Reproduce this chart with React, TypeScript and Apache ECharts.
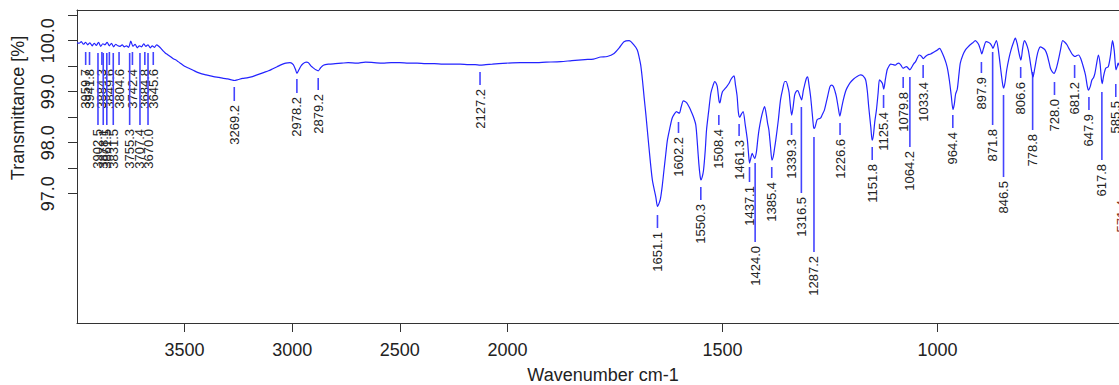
import React, { useEffect, useRef } from "react";
import * as echarts from "echarts";

// Spectrum samples: wavenumber (cm-1) and transmittance (%)
const wavenumber = [
  4000, 3990, 3980, 3970, 3960, 3950, 3940, 3930, 3920, 3910, 3900, 3890, 3880, 3870, 3860, 3850,
  3840, 3830, 3820, 3810, 3800, 3790, 3780, 3770, 3760, 3750, 3740, 3730, 3720, 3710, 3700, 3690,
  3680, 3670, 3660, 3650, 3640, 3630, 3620, 3610, 3600, 3590, 3580, 3570, 3560, 3550, 3540, 3530,
  3520, 3500, 3480, 3460, 3440, 3420, 3400, 3380, 3360, 3340, 3320, 3300, 3280, 3269, 3250, 3230,
  3210, 3190, 3170, 3150, 3130, 3110, 3090, 3070, 3050, 3030, 3010, 2995, 2985, 2978, 2970, 2960,
  2950, 2935, 2925, 2912, 2900, 2890, 2879, 2868, 2855, 2830, 2800, 2770, 2740, 2700, 2660, 2620,
  2580, 2540, 2500, 2460, 2420, 2380, 2340, 2300, 2260, 2220, 2180, 2150, 2127, 2100, 2070, 2040,
  2000, 1970, 1940, 1910, 1876, 1850, 1820, 1800, 1783, 1768, 1752, 1740, 1729, 1717, 1706, 1698,
  1694, 1690, 1686, 1682, 1678, 1671, 1663, 1655, 1651, 1647, 1644, 1640, 1636, 1632, 1628, 1622,
  1617, 1612, 1607, 1603, 1600, 1596, 1591, 1587, 1583, 1578, 1574, 1568, 1562, 1558, 1555, 1552,
  1550, 1547, 1544, 1540, 1537, 1532, 1527, 1522, 1518, 1515, 1512, 1508, 1506, 1503, 1500, 1495,
  1490, 1485, 1481, 1477, 1473, 1470, 1466, 1463, 1460, 1456, 1452, 1447, 1442, 1439, 1437, 1434,
  1431, 1428, 1425, 1421, 1418, 1415, 1410, 1406, 1402, 1398, 1395, 1392, 1388, 1385, 1382, 1379,
  1376, 1370, 1365, 1360, 1355, 1352, 1348, 1345, 1342, 1339, 1336, 1332, 1328, 1325, 1320, 1316,
  1312, 1309, 1305, 1302, 1299, 1295, 1291, 1288, 1286, 1283, 1280, 1276, 1272, 1268, 1263, 1257,
  1250, 1246, 1242, 1238, 1235, 1231, 1227, 1223, 1219, 1214, 1210, 1203, 1195, 1187, 1179, 1173,
  1167, 1163, 1160, 1155, 1152, 1149, 1146, 1142, 1138, 1135, 1131, 1128, 1125, 1121, 1117, 1113,
  1109, 1103, 1098, 1094, 1090, 1085, 1080, 1076, 1072, 1068, 1064, 1060, 1055, 1051, 1047, 1043,
  1038, 1033, 1028, 1023, 1016, 1010, 1004, 1000, 995, 990, 985, 980, 976, 972, 968, 964,
  961, 958, 954, 950, 947, 941, 935, 930, 924, 918, 912, 908, 904, 900, 897, 893,
  887, 882, 877, 874, 871, 867, 863, 859, 855, 851, 848, 846, 843, 839, 834, 829,
  824, 819, 815, 812, 809, 806, 802, 798, 794, 789, 785, 781, 778, 774, 769, 765,
  761, 756, 750, 745, 740, 737, 733, 729, 724, 719, 714, 709, 704, 699, 694, 688,
  684, 680, 676, 672, 667, 661, 656, 652, 649, 645, 641, 637, 634, 630, 626, 622,
  619, 617, 614, 609, 603, 598, 593, 589, 585, 582, 580, 575, 570, 565, 560, 555,
];

const transmittance = [
  99.96, 99.95, 99.98, 99.93, 99.97, 99.92, 99.96, 99.9, 99.95, 99.91, 99.97, 99.89, 99.94, 99.92, 99.97, 99.9,
  99.95, 99.88, 99.93, 99.9, 99.89, 99.92, 99.88, 99.9, 99.87, 99.99, 99.89, 99.93, 99.86, 99.9, 99.88, 99.94,
  99.89, 99.92, 99.86, 99.9, 99.87, 99.92, 99.89, 99.85, 99.8, 99.76, 99.73, 99.7, 99.67, 99.64, 99.62, 99.59,
  99.56, 99.5, 99.46, 99.42, 99.38, 99.35, 99.33, 99.31, 99.29, 99.28, 99.26, 99.25, 99.23, 99.22, 99.24, 99.26,
  99.27, 99.29, 99.32, 99.35, 99.38, 99.41, 99.45, 99.49, 99.53, 99.56, 99.57, 99.53, 99.44, 99.36, 99.42, 99.5,
  99.55, 99.58, 99.57, 99.5, 99.46, 99.43, 99.41, 99.47, 99.52, 99.54, 99.55, 99.56, 99.57, 99.56, 99.58, 99.57,
  99.56, 99.57, 99.57, 99.56, 99.56, 99.55, 99.55, 99.54, 99.54, 99.54, 99.53, 99.53, 99.52, 99.53, 99.54, 99.55,
  99.56, 99.57, 99.57, 99.58, 99.59, 99.61, 99.63, 99.64, 99.68, 99.69, 99.75, 99.86, 99.98, 100.0, 99.92, 99.82,
  99.69, 99.52, 99.23, 98.88, 98.55, 97.92, 97.27, 96.94, 96.75, 96.82, 96.91, 97.15, 97.46, 97.76, 98.05, 98.3,
  98.48, 98.56, 98.61, 98.59, 98.58, 98.7, 98.82, 98.81, 98.78, 98.71, 98.64, 98.52, 98.35, 97.95, 97.6, 97.35,
  97.27, 97.33, 97.46, 97.85, 98.25, 98.62, 98.97, 99.12, 99.2, 99.17, 99.1, 98.82, 98.78, 98.9, 99.0, 99.05,
  99.1, 99.16, 99.23, 99.28, 99.31, 99.15, 98.92, 98.6, 98.5, 98.56, 98.61, 98.35, 98.05, 97.75, 97.6, 97.7,
  97.79, 97.74, 97.69, 97.82, 98.05, 98.25, 98.48, 98.62, 98.71, 98.55, 98.38, 98.25, 97.9, 97.66, 97.72, 97.88,
  98.05, 98.45, 98.84, 99.05, 99.2, 99.2, 99.1, 98.98, 98.72, 98.54, 98.68, 98.94, 99.01, 99.02, 98.92, 98.84,
  99.02, 99.13, 99.26, 99.29, 99.15, 98.9, 98.55, 98.3, 98.28, 98.36, 98.45, 98.47, 98.48, 98.55, 98.64, 98.85,
  99.1, 99.13, 99.1, 99.0, 98.9, 98.7, 98.52, 98.68, 98.84, 99.0, 99.08, 99.18, 99.25, 99.3, 99.33, 99.31,
  99.23, 99.0, 98.71, 98.3, 98.05, 98.15, 98.4, 98.64, 98.98, 99.23, 99.2, 99.16, 99.05, 99.25, 99.43, 99.5,
  99.54, 99.53, 99.52, 99.55, 99.56, 99.52, 99.46, 99.48, 99.49, 99.46, 99.43, 99.48, 99.55, 99.59, 99.66, 99.72,
  99.7, 99.65, 99.69, 99.72, 99.74, 99.77, 99.8, 99.82, 99.85, 99.78, 99.68, 99.56, 99.42, 99.2, 98.92, 98.65,
  98.75, 98.95, 99.05, 99.35, 99.56, 99.72, 99.82, 99.87, 99.92, 99.96, 100.0, 99.97, 99.92, 99.82, 99.74, 99.85,
  99.98, 99.97, 99.94, 99.9, 99.85, 99.93, 100.0, 99.85, 99.58, 99.3, 99.12, 99.07, 99.18, 99.43, 99.65, 99.82,
  99.95, 100.05, 99.95, 99.82, 99.7, 99.62, 99.85, 100.0, 99.95, 99.82, 99.62, 99.4, 99.29, 99.45, 99.69, 99.82,
  99.88, 99.86, 99.82, 99.72, 99.55, 99.45, 99.39, 99.36, 99.45, 99.62, 99.82, 100.0, 99.97, 99.92, 99.84, 99.75,
  99.71, 99.69, 99.71, 99.72, 99.65, 99.49, 99.33, 99.12, 99.03, 99.1, 99.23, 99.28, 99.36, 99.55, 99.72, 99.55,
  99.25, 99.16, 99.3, 99.46, 99.49, 99.7, 100.0, 99.8, 99.43, 99.5, 99.56, 99.45, 99.3, 99.4, 99.5, 99.55,
];

// Picked peaks: position, and the transmittance span of each marker stroke
const peakWavenumbers = [
  3959.7, 3941.8, 3884.3, 3849.6, 3804.6, 3742.4, 3684.8, 3645.6,
  3902.5, 3878.1, 3861.5, 3831.5, 3755.3, 3707.4, 3670.0,
  3269.2, 2978.2, 2879.2, 2127.2,
  1651.1, 1602.2, 1550.3, 1508.4, 1461.3, 1437.1, 1424.0, 1385.4, 1339.3, 1316.5, 1287.2, 1226.6,
  1151.8, 1125.4, 1079.8, 1064.2, 1033.4, 964.4, 897.9, 871.8, 846.5, 806.6, 778.8, 728.0,
  681.2, 647.9, 617.8, 585.5, 571.4,
];
const peakLineFrom = [
  99.778, 99.778, 99.778, 99.778, 99.778, 99.778, 99.778, 99.778,
  99.759, 99.759, 99.759, 99.759, 99.759, 99.759, 99.759,
  99.092, 99.249, 99.269, 99.386,
  96.582, 98.406, 97.131, 98.543, 98.367, 97.524, 97.602, 97.524, 98.386, 98.7, 98.112, 98.386,
  97.916, 98.935, 99.288, 99.288, 99.524, 98.543, 99.582, 99.778, 98.935, 99.484, 99.386, 99.19,
  99.524, 98.896, 98.994, 99.151, 97.857,
];
const peakLineTo = [
  99.524, 99.524, 99.524, 99.524, 99.524, 99.524, 99.524, 99.524,
  98.347, 98.347, 98.347, 98.347, 98.347, 98.347, 98.347,
  98.818, 98.975, 99.033, 99.131,
  96.327, 98.19, 96.876, 98.347, 98.131, 97.229, 96.053, 97.308, 98.151, 97.014, 95.857, 98.151,
  97.661, 98.68, 99.073, 97.916, 99.269, 98.288, 99.367, 98.347, 97.327, 99.269, 98.249, 98.935,
  99.269, 98.641, 97.661, 98.896, 96.955,
];
// Peaks whose label is printed in a highlight colour
const highlightedPeaks = [571.4];

const yTicks = [97.0, 97.5, 98.0, 98.5, 99.0, 99.5, 100.0, 100.5];
const yLabels = [97.0, 98.0, 99.0, 100.0];
const xTicksHigh = [3500, 3000, 2500];
const xTicksLow = [2000, 1500, 1000];

const FONT = '"Liberation Sans", Arial, sans-serif';
const INK = "#222";
const LINE_BLUE = "#2323ff";
const MARK_BLUE = "#4444ff";

// Bruker-style split: above 2000 cm-1 the scale is half as dense
const PX_PER_UNIT = 0.4304;
const PLOT_LEFT = 77;
const PLOT_TOP = 10;
const PLOT_HEIGHT = 313;
const Y_MIN = 94.465;
const Y_MAX = 100.602;
const LOW_MIN = 578;
const SPLIT = 2000;
const HIGH_MAX = 4000;

function renderPeak(params: any, api: any) {
  const w = api.value(0);
  const a = api.coord([w, api.value(1)]);
  const b = api.coord([w, api.value(2)]);
  const highlighted = highlightedPeaks.includes(w);
  return {
    type: "group",
    children: [
      {
        type: "line",
        shape: { x1: a[0], y1: a[1], x2: b[0], y2: b[1] },
        style: { stroke: MARK_BLUE, lineWidth: 1.6 },
      },
      {
        type: "text",
        x: b[0],
        y: b[1] + 4,
        rotation: Math.PI / 2,
        style: {
          text: w.toFixed(1),
          fill: highlighted ? "#8a2b12" : INK,
          font: `13px ${FONT}`,
          align: "right",
          verticalAlign: "middle",
        },
      },
    ],
  };
}

export default function App() {
  const ref = useRef<HTMLDivElement>(null);

  useEffect(() => {
    if (!ref.current) return;
    const chart = echarts.init(ref.current, null, { renderer: "svg" });

    const points = wavenumber.map((w, i) => [w, transmittance[i]]);
    const highPoints = points.filter((p) => p[0] >= SPLIT);
    const lowPoints = points.filter((p) => p[0] <= SPLIT);
    const peaks = peakWavenumbers.map((w, i) => [w, peakLineFrom[i], peakLineTo[i]]);
    const highPeaks = peaks.filter((p) => p[0] > SPLIT);
    const lowPeaks = peaks.filter((p) => p[0] <= SPLIT);

    const highWidth = ((HIGH_MAX - SPLIT) * PX_PER_UNIT) / 2;
    const lowWidth = (SPLIT - LOW_MIN) * PX_PER_UNIT;

    const axisLine = { show: true, lineStyle: { color: "#333", width: 1 } };
    const bottomAxis = (min: number, max: number, ticks: number[], grid: number) => ({
      type: "value",
      gridIndex: grid,
      inverse: true,
      min,
      max,
      position: "bottom",
      axisLine,
      splitLine: { show: false },
      axisTick: { show: true, length: 9, customValues: ticks, lineStyle: { color: "#333" } },
      axisLabel: {
        show: true,
        customValues: ticks,
        margin: 18,
        color: INK,
        fontSize: 18,
        fontFamily: FONT,
        formatter: (v: number) => String(v),
      },
    });
    const topAxis = (min: number, max: number, grid: number) => ({
      type: "value",
      gridIndex: grid,
      inverse: true,
      min,
      max,
      position: "top",
      axisLine,
      axisTick: { show: false },
      axisLabel: { show: false },
      splitLine: { show: false },
    });

    chart.setOption({
      animation: false,
      backgroundColor: "#fff",
      grid: [
        { left: PLOT_LEFT, top: PLOT_TOP, width: highWidth, height: PLOT_HEIGHT },
        { left: PLOT_LEFT + highWidth, top: PLOT_TOP, width: lowWidth, height: PLOT_HEIGHT },
      ],
      xAxis: [
        bottomAxis(SPLIT, HIGH_MAX, xTicksHigh, 0),
        topAxis(SPLIT, HIGH_MAX, 0),
        bottomAxis(LOW_MIN, SPLIT, xTicksLow, 1),
        topAxis(LOW_MIN, SPLIT, 1),
      ],
      yAxis: [
        {
          type: "value",
          gridIndex: 0,
          min: Y_MIN,
          max: Y_MAX,
          axisLine,
          splitLine: { show: false },
          axisTick: { show: true, length: 9, customValues: yTicks, lineStyle: { color: "#333" } },
          axisLabel: {
            show: true,
            customValues: yLabels,
            rotate: 90,
            margin: 20,
            color: INK,
            fontSize: 18,
            fontFamily: FONT,
            formatter: (v: number) => v.toFixed(1),
          },
        },
        {
          type: "value",
          gridIndex: 1,
          min: Y_MIN,
          max: Y_MAX,
          axisLine: { show: false },
          axisTick: { show: false },
          axisLabel: { show: false },
          splitLine: { show: false },
        },
      ],
      series: [
        {
          type: "line",
          xAxisIndex: 0,
          yAxisIndex: 0,
          data: highPoints,
          showSymbol: false,
          smooth: 0.25,
          lineStyle: { color: LINE_BLUE, width: 1.2 },
        },
        {
          type: "line",
          xAxisIndex: 2,
          yAxisIndex: 1,
          data: lowPoints,
          showSymbol: false,
          smooth: 0.25,
          lineStyle: { color: LINE_BLUE, width: 1.2 },
        },
        {
          type: "custom",
          xAxisIndex: 0,
          yAxisIndex: 0,
          data: highPeaks,
          renderItem: renderPeak,
        },
        {
          type: "custom",
          xAxisIndex: 2,
          yAxisIndex: 1,
          data: lowPeaks,
          renderItem: renderPeak,
        },
      ],
      graphic: [
        {
          type: "text",
          x: 18,
          y: 108,
          rotation: Math.PI / 2,
          style: {
            text: "Transmittance [%]",
            font: `18px ${FONT}`,
            fill: INK,
            align: "center",
            verticalAlign: "middle",
          },
        },
        {
          type: "text",
          x: 603,
          y: 375,
          style: {
            text: "Wavenumber cm-1",
            font: `18px ${FONT}`,
            fill: INK,
            align: "center",
            verticalAlign: "middle",
          },
        },
      ],
    });

    return () => chart.dispose();
  }, []);

  return (
    <div
      ref={ref}
      style={{ position: "fixed", left: 0, top: 0, width: 1119, height: 385 }}
    />
  );
}
